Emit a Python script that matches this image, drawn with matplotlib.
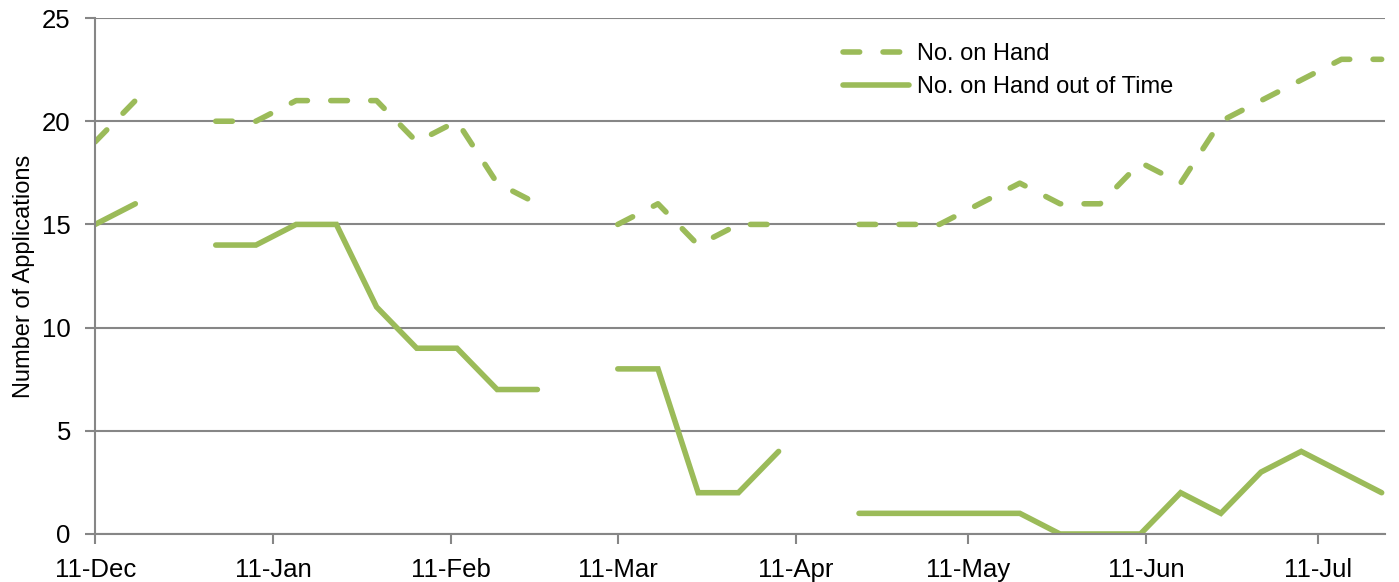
import numpy as np
import pandas as pd
import matplotlib
matplotlib.use('Agg')
import matplotlib.pyplot as plt
import matplotlib.dates as mdates

plt.rcParams['font.family'] = ['Liberation Sans', 'DejaVu Sans']

# weekly snapshots, NaN where no figure was recorded
week_dates = ['2011-12-11', '2011-12-18', '2011-12-25', '2012-01-01', '2012-01-08',
              '2012-01-15', '2012-01-22', '2012-01-29', '2012-02-05', '2012-02-12',
              '2012-02-19', '2012-02-26', '2012-03-04', '2012-03-11', '2012-03-18',
              '2012-03-25', '2012-04-01', '2012-04-08', '2012-04-15', '2012-04-22',
              '2012-04-29', '2012-05-06', '2012-05-13', '2012-05-20', '2012-05-27',
              '2012-06-03', '2012-06-10', '2012-06-17', '2012-06-24', '2012-07-01',
              '2012-07-08', '2012-07-15', '2012-07-22']

on_hand = [19, 21, np.nan, 20, 20, 21, 21, 21, 19, 20, 17, 16, np.nan,
           15, 16, 14, 15, 15, np.nan, 15, 15, 15, 16, 17, 16, 16, 18, 17,
           20, 21, 22, 23, 23]

out_of_time = [15, 16, np.nan, 14, 14, 15, 15, 11, 9, 9, 7, 7, np.nan,
               8, 8, 2, 2, 4, np.nan, 1, 1, 1, 1, 1, 0, 0, 0, 2, 1, 3, 4, 3, 2]

series_labels = ['No. on Hand', 'No. on Hand out of Time']
y_ticks = [0, 5, 10, 15, 20, 25]

green = '#9BBB59'
grey = '#868686'

dates = pd.to_datetime(week_dates)

fig = plt.figure(figsize=(13.99, 5.82), dpi=100)
ax = fig.add_axes([0.068, 0.0825, 0.922, 0.8865])

ax.plot(dates, on_hand, color=green, lw=4.0, linestyle=(0, (3.0, 4.2)),
        dash_capstyle='round', solid_capstyle='round', label=series_labels[0])
ax.plot(dates, out_of_time, color=green, lw=4.0, solid_capstyle='round',
        solid_joinstyle='miter', label=series_labels[1])

ax.set_ylim(0, 25)
ax.set_yticks(y_ticks)
ax.set_xlim(dates[0], dates[-1] + pd.Timedelta(hours=14))

ax.xaxis.set_major_locator(mdates.MonthLocator(bymonthday=11))
ax.xaxis.set_major_formatter(mdates.DateFormatter('%d-%b'))

ax.grid(axis='y', color=grey, lw=1.5)
ax.set_axisbelow(True)
for side in ['top', 'right']:
    ax.spines[side].set_visible(False)
for side in ['left', 'bottom']:
    ax.spines[side].set_color(grey)
    ax.spines[side].set_linewidth(1.5)
ax.tick_params(axis='both', colors=grey, labelcolor='black', labelsize=18.5,
               width=1.5, length=7, direction='out', pad=10.5)

ax.set_ylabel('Number of Applications', fontsize=17)
ax.yaxis.set_label_coords(-0.047, 0.5)

ax.legend(loc='upper left', bbox_to_anchor=(0.563, 0.993), frameon=False,
          fontsize=17, handlelength=2.8, handletextpad=0.35, labelspacing=0.46)

fig.savefig('out.png', dpi=100)
